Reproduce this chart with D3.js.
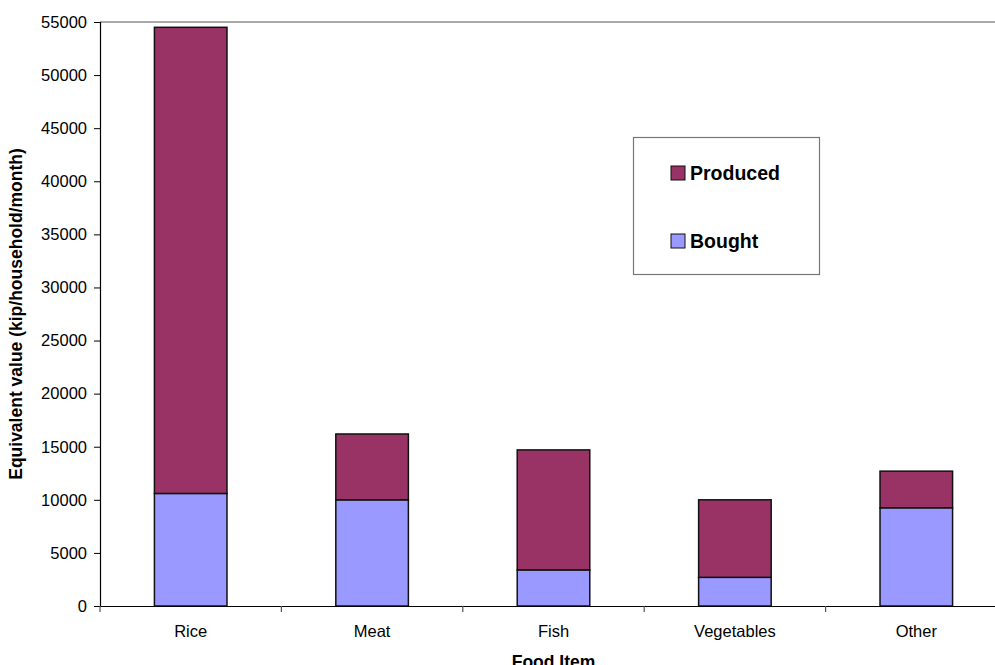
<!DOCTYPE html>
<html>
<head>
<meta charset="utf-8">
<script src="https://cdn.jsdelivr.net/npm/d3@7"></script>
<style>
  body { margin: 0; background: #fff; }
  svg { display: block; overflow: hidden; }
  text { font-family: "Liberation Sans", Arial, sans-serif; fill: #000; }
</style>
</head>
<body>
<div id="chart"></div>
<script>
var foodItems = ['Rice', 'Meat', 'Fish', 'Vegetables', 'Other']
var bought = [10600, 10000, 3400, 2700, 9250]
var produced = [43900, 6200, 11300, 7300, 3450]
var seriesNames = ['Produced', 'Bought']
var yTicks = [0, 5000, 10000, 15000, 20000, 25000, 30000, 35000, 40000, 45000, 50000, 55000]

var width = 995, height = 665
var plotLeft = 100, plotRight = 1007, plotTop = 22, plotBottom = 606

var svg = d3.select('#chart').append('svg')
    .attr('width', width)
    .attr('height', height)

var x = d3.scaleBand()
    .domain(foodItems)
    .range([plotLeft, plotRight])
    .paddingInner(0.6)
    .paddingOuter(0.3)

var y = d3.scaleLinear()
    .domain([0, 55000])
    .range([plotBottom, plotTop])

var color = d3.scaleOrdinal()
    .domain(seriesNames)
    .range(['#993366', '#9999ff'])

// top border of plot area
svg.append('line')
    .attr('x1', plotLeft).attr('x2', plotRight)
    .attr('y1', plotTop).attr('y2', plotTop)
    .attr('stroke', '#8c8c8c')
    .attr('stroke-width', 1.5)

var rows = foodItems.map(function (d, i) {
    return { name: d, Bought: bought[i], Produced: produced[i] }
})
var stack = d3.stack().keys(['Bought', 'Produced'])(rows)

svg.selectAll('.layer')
    .data(stack)
    .enter()
    .append('g')
    .attr('class', 'layer')
    .attr('fill', function (d) { return color(d.key) })
    .selectAll('rect')
    .data(function (d) { return d })
    .enter()
    .append('rect')
    .attr('x', function (d) { return x(d.data.name) })
    .attr('width', x.bandwidth())
    .attr('y', function (d) { return y(d[1]) })
    .attr('height', function (d) { return y(d[0]) - y(d[1]) })
    .attr('stroke', '#111')
    .attr('stroke-width', 1.5)

// y axis
var yAxis = svg.append('g')
    .attr('transform', 'translate(' + plotLeft + ',0)')
    .call(d3.axisLeft(y).tickValues(yTicks).tickSize(6).tickPadding(7).tickFormat(d3.format('d')))
yAxis.select('.domain').attr('stroke', '#000').attr('stroke-width', 1.2)
yAxis.selectAll('.tick line').attr('stroke', '#000')
yAxis.selectAll('text').style('font-size', '16.5px')

// x axis
var xAxis = svg.append('g')
    .attr('transform', 'translate(0,' + plotBottom + ')')
    .call(d3.axisBottom(x).tickSize(0).tickPadding(19))
xAxis.select('.domain').attr('stroke', '#000').attr('stroke-width', 1.2)
xAxis.selectAll('text').style('font-size', '16.5px')

var boundaries = d3.range(foodItems.length + 1).map(function (i) {
    return plotLeft + i * x.step()
})
xAxis.selectAll('.sep')
    .data(boundaries)
    .enter()
    .append('line')
    .attr('x1', function (d) { return d })
    .attr('x2', function (d) { return d })
    .attr('y1', 0)
    .attr('y2', 6)
    .attr('stroke', '#555')
    .attr('stroke-width', 1.2)

// titles
svg.append('text')
    .attr('transform', 'translate(22,' + ((plotTop + plotBottom) / 2) + ') rotate(-90)')
    .attr('text-anchor', 'middle')
    .style('font-size', '17.5px')
    .style('font-weight', 'bold')
    .text('Equivalent value (kip/household/month)')

svg.append('text')
    .attr('x', (plotLeft + plotRight) / 2)
    .attr('y', 668)
    .attr('text-anchor', 'middle')
    .style('font-size', '17.5px')
    .style('font-weight', 'bold')
    .text('Food Item')

// legend
var legend = svg.append('g')
legend.append('rect')
    .attr('x', 633.5).attr('y', 137.5)
    .attr('width', 186).attr('height', 137)
    .attr('fill', '#fff')
    .attr('stroke', '#777')
    .attr('stroke-width', 1.2)

var item = legend.selectAll('.item')
    .data(seriesNames)
    .enter()
    .append('g')
    .attr('class', 'item')
    .attr('transform', function (d, i) { return 'translate(671,' + (166 + i * 68) + ')' })
item.append('rect')
    .attr('width', 14).attr('height', 14)
    .attr('fill', function (d) { return color(d) })
    .attr('stroke', '#111')
    .attr('stroke-width', 1)
item.append('text')
    .attr('x', 19)
    .attr('y', 14)
    .style('font-size', '19.5px')
    .style('font-weight', 'bold')
    .text(function (d) { return d })
</script>
</body>
</html>
